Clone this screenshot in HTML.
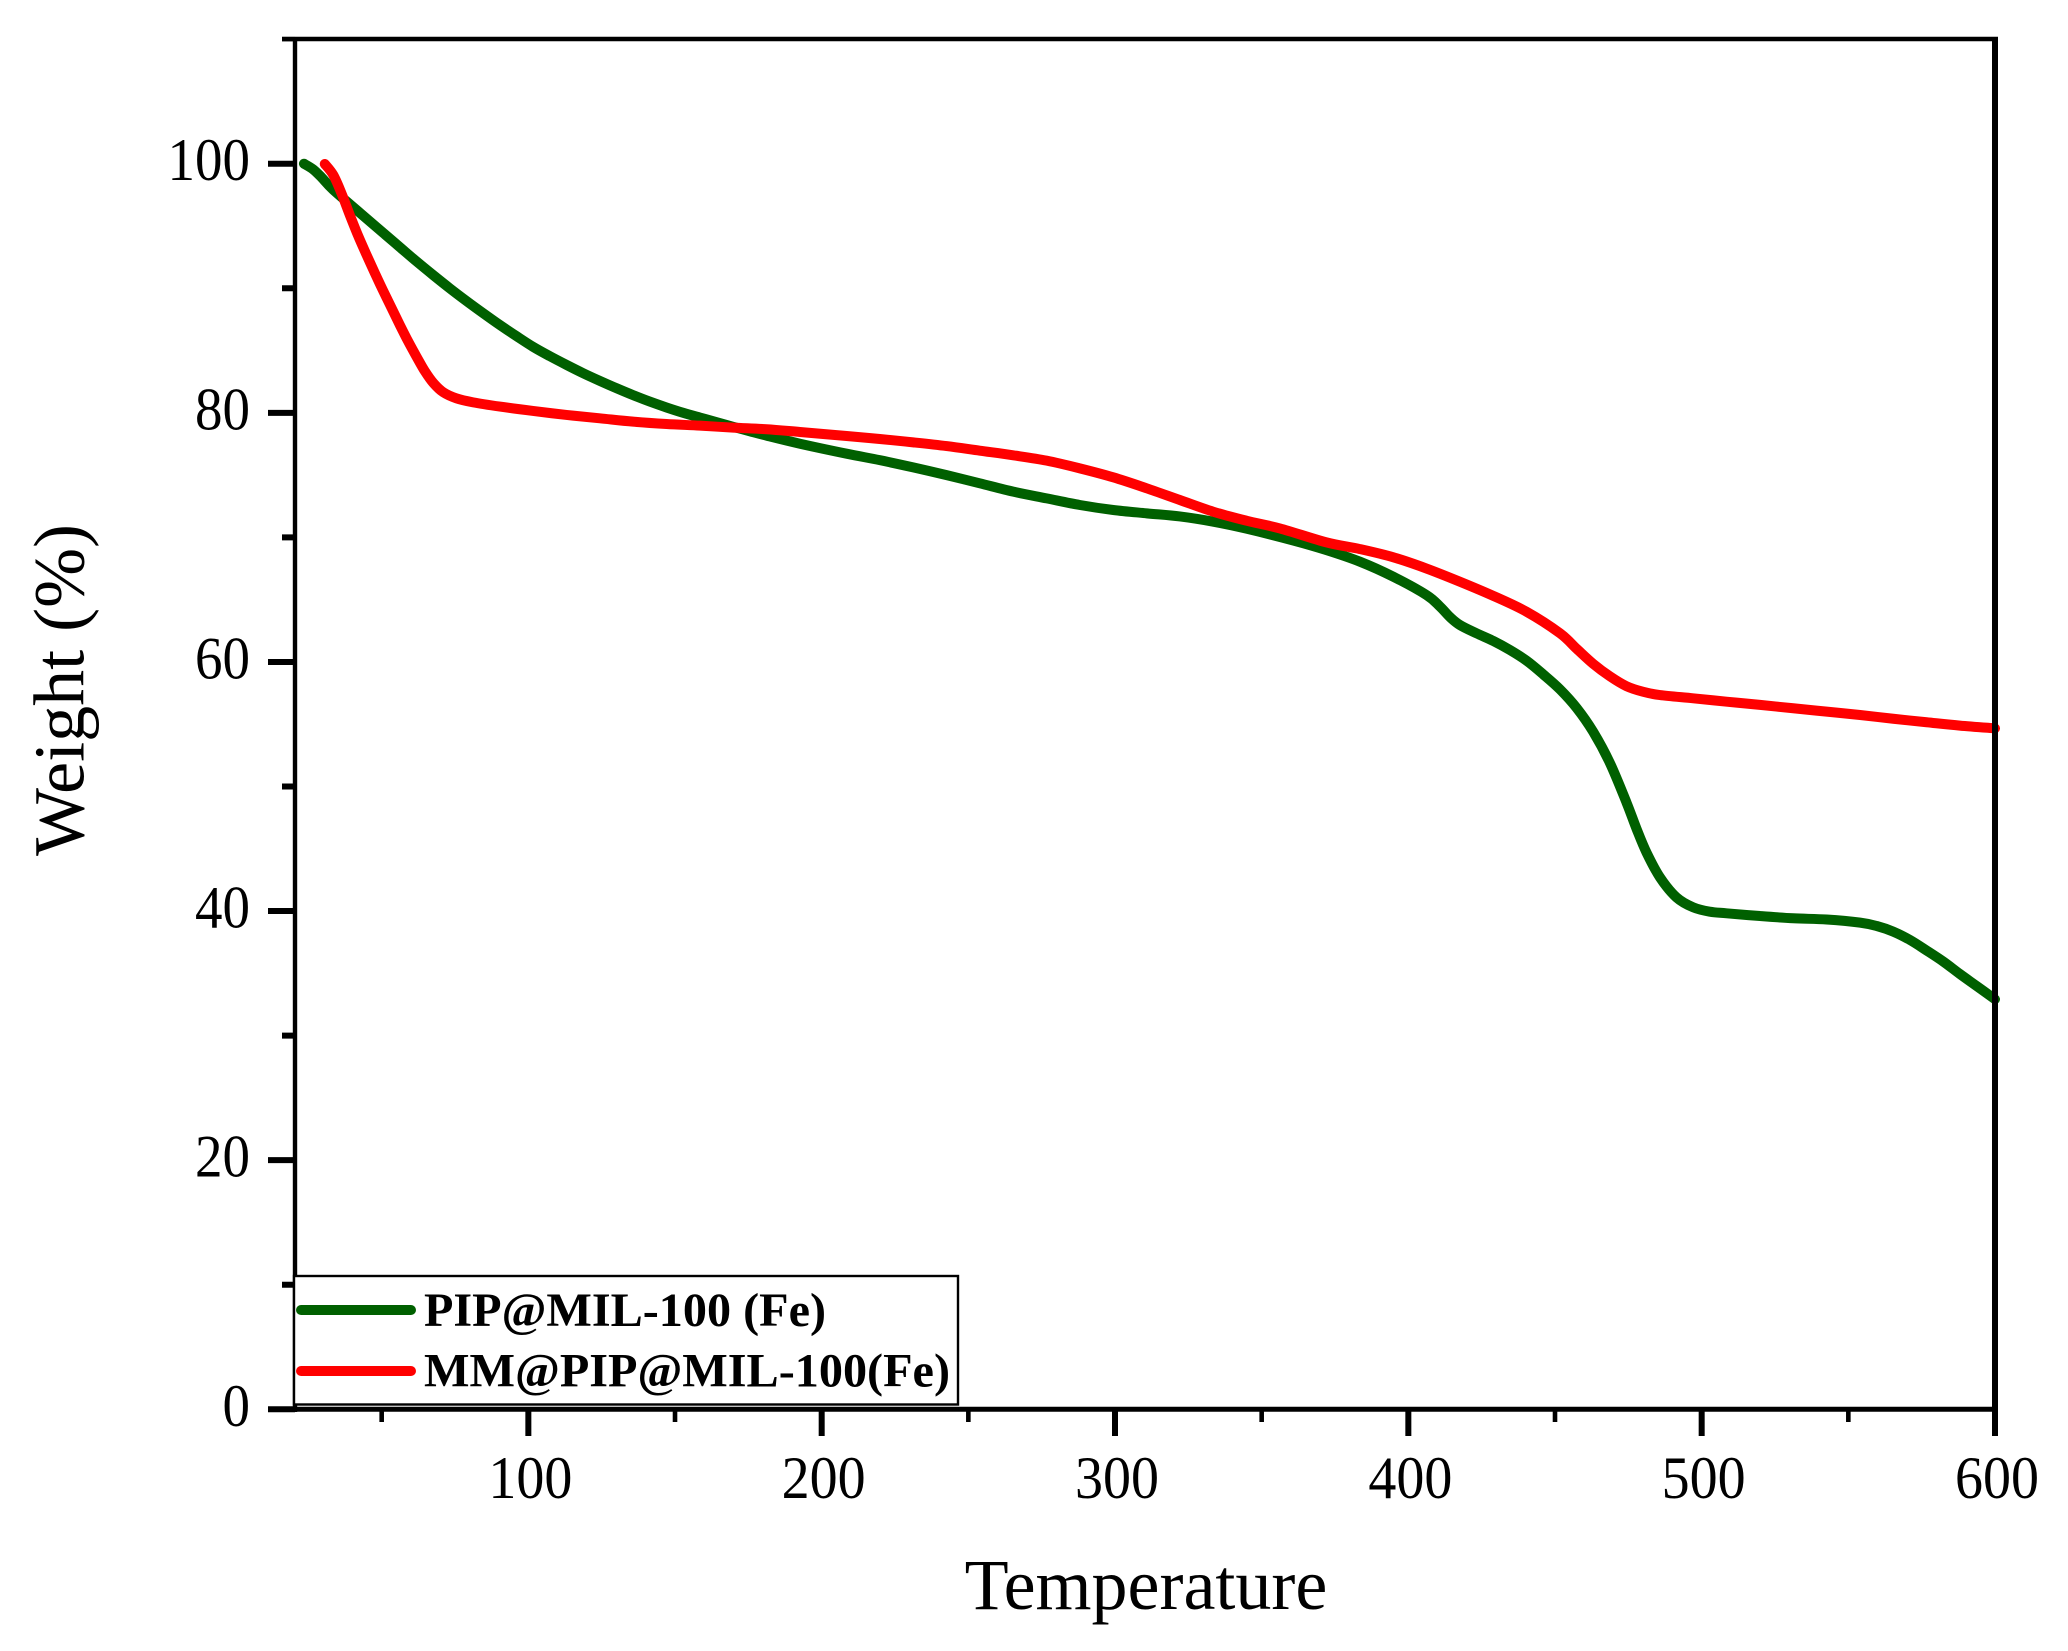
<!DOCTYPE html>
<html lang="en">
<head>
<meta charset="utf-8">
<title>Weight vs Temperature</title>
<style>
html,body{margin:0;padding:0;background:#fff;}
svg{display:block;}
text{font-family:"Liberation Serif","Times New Roman",serif;fill:#000;}
</style>
</head>
<body>
<svg id="chart" xmlns="http://www.w3.org/2000/svg" width="2068" height="1651" viewBox="0 0 2068 1651">
<rect x="0" y="0" width="2068" height="1651" fill="#fff"/>
<g id="series"></g>
<g id="axes"></g>
<text x="1146" y="1609" font-size="72" text-anchor="middle">Temperature</text>
<text transform="translate(83.5,690) rotate(-90)" font-size="72" text-anchor="middle">Weight (%)</text>
<g>
<rect x="294" y="1276" width="664" height="128.5" fill="#fff" stroke="#000" stroke-width="2.4"/>
<line x1="301" y1="1310" x2="411" y2="1310" stroke="#006000" stroke-width="10" stroke-linecap="round"/>
<text x="424" y="1326" font-size="48" font-weight="bold" textLength="402" lengthAdjust="spacingAndGlyphs">PIP@MIL-100 (Fe)</text>
<line x1="301" y1="1371" x2="411" y2="1371" stroke="#ff0000" stroke-width="10" stroke-linecap="round"/>
<text x="424" y="1386.7" font-size="48" font-weight="bold" textLength="526" lengthAdjust="spacingAndGlyphs">MM@PIP@MIL-100(Fe)</text>
</g>
</svg>
<script>
const xMajorTicks = [100, 200, 300, 400, 500, 600];
const xMinorTicks = [50, 150, 250, 350, 450, 550];
const yMajorTicks = [0, 20, 40, 60, 80, 100];
const yMinorTicks = [10, 30, 50, 70, 90, 110];

const pipTemp = [23.5,26.6,29.5,33.5,42.6,50.5,56.2,61.9,67.6,73.2,78.9,84.6,90.3,96,101.6,107.3,113,118.7,124.4,130.1,135.7,141.4,147.1,152.8,158.5,164.2,169.8,175.5,181.2,192.6,208.5,219.8,231.2,242.6,253.9,265.3,276.7,288,299.4,310.8,322.1,333.5,344.8,360.8,372.1,383.5,394.9,406.2,410.8,414.2,417.6,423.3,429,434.6,440.3,446,451.7,457.4,463,468.7,474.4,477.8,481.2,485.8,491.4,497.1,502.8,508.5,519.9,531.2,542.6,554,559.7,565.3,571,576.7,582.4,588,593.7,600];
const pipWeight = [100,99.55,98.9,97.9,96.05,94.45,93.3,92.15,91.05,90,88.98,88,87.05,86.15,85.3,84.55,83.85,83.18,82.56,81.97,81.42,80.9,80.43,80,79.62,79.25,78.88,78.52,78.17,77.52,76.72,76.2,75.62,75,74.34,73.67,73.13,72.6,72.2,71.93,71.68,71.26,70.7,69.75,68.98,68.05,66.84,65.37,64.44,63.6,62.96,62.29,61.68,60.96,60.1,59,57.8,56.3,54.4,51.9,48.7,46.6,44.7,42.7,41.1,40.3,39.95,39.82,39.6,39.42,39.32,39.07,38.8,38.35,37.68,36.83,35.94,34.95,33.99,32.92];

const mmTemp = [30.6,33.5,36.3,39.1,42,44.8,47.7,50.5,53.4,56.2,59,61.9,64.7,67.6,71,75.5,81.2,90.3,101.6,113,124.4,135.7,147.1,158.5,169.8,181.2,192.6,208.5,219.8,231.2,242.6,253.9,265.3,276.7,288,299.4,310.8,322.1,333.5,344.8,356.2,372.1,383.5,394.9,406.2,417.6,429,440.3,451.7,457.4,463,468.7,474.4,480.1,485.8,497.1,508.5,519.9,531.2,542.6,554,565.3,576.7,588,600];
const mmWeight = [99.98,99.09,97.62,95.9,94.2,92.7,91.2,89.8,88.4,87.05,85.75,84.5,83.35,82.4,81.65,81.16,80.84,80.5,80.15,79.83,79.56,79.29,79.1,78.97,78.81,78.68,78.46,78.14,77.9,77.63,77.33,76.96,76.59,76.16,75.54,74.82,73.94,73,72.06,71.34,70.72,69.6,69.06,68.4,67.5,66.44,65.3,64.03,62.3,61.05,59.85,58.85,58.05,57.6,57.34,57.08,56.81,56.55,56.28,56.01,55.74,55.44,55.16,54.89,54.67];

const SVG_NS = 'http://www.w3.org/2000/svg';
function xScale(t) { return 1995 + (t - 600) * 2.9333; }
function yScale(w) { return 1409.3 - w * 12.456; }

function make(tag, attrs, parent) {
  const el = document.createElementNS(SVG_NS, tag);
  for (const k in attrs) el.setAttribute(k, attrs[k]);
  parent.appendChild(el);
  return el;
}

function curvePath(xs, ys) {
  const p = xs.map(function (x, i) { return [xScale(x), yScale(ys[i])]; });
  let d = 'M' + p[0][0].toFixed(2) + ' ' + p[0][1].toFixed(2);
  for (let i = 0; i < p.length - 1; i++) {
    const a = p[Math.max(i - 1, 0)], b = p[i], c = p[i + 1], e = p[Math.min(i + 2, p.length - 1)];
    const c1x = b[0] + (c[0] - a[0]) / 6, c1y = b[1] + (c[1] - a[1]) / 6;
    const c2x = c[0] - (e[0] - b[0]) / 6, c2y = c[1] - (e[1] - b[1]) / 6;
    d += 'C' + c1x.toFixed(2) + ' ' + c1y.toFixed(2) + ' ' + c2x.toFixed(2) + ' ' + c2y.toFixed(2) + ' ' + c[0].toFixed(2) + ' ' + c[1].toFixed(2);
  }
  return d;
}

const seriesGroup = document.getElementById('series');
const axesGroup = document.getElementById('axes');

const pipLine = make('path', {d: curvePath(pipTemp, pipWeight), fill: 'none', stroke: '#006000', 'stroke-width': 10, 'stroke-linecap': 'round', 'stroke-linejoin': 'round'}, seriesGroup);



const mmLine = make('path', {d: curvePath(mmTemp, mmWeight), fill: 'none', stroke: '#ff0000', 'stroke-width': 10, 'stroke-linecap': 'round', 'stroke-linejoin': 'round'}, seriesGroup);



const frameTop = make('line', {x1: 282, y1: 39, x2: 1998, y2: 39, stroke: '#000', 'stroke-width': 4.4}, axesGroup);



const frameRight = make('line', {x1: 1995, y1: 37, x2: 1995, y2: 1436, stroke: '#000', 'stroke-width': 6}, axesGroup);



const axisLeft = make('line', {x1: 295, y1: 37, x2: 295, y2: 1412, stroke: '#000', 'stroke-width': 4.4}, axesGroup);



const axisBottom = make('line', {x1: 268, y1: 1409.3, x2: 1995, y2: 1409.3, stroke: '#000', 'stroke-width': 5}, axesGroup);



yMajorTicks.forEach(function (v) {
  const y = yScale(v);
  const tick = make('line', {x1: 268, y1: y, x2: 295, y2: y, stroke: '#000', 'stroke-width': 6}, axesGroup);
  
  
  const text = String(v);
  const label = make('text', {x: 250, y: y + 16.5, 'font-size': 60, 'text-anchor': 'end', textLength: text.length * 27.5, lengthAdjust: 'spacingAndGlyphs'}, axesGroup);
  label.textContent = text;
  
  
});

yMinorTicks.forEach(function (v) {
  const y = yScale(v);
  const tick = make('line', {x1: 282, y1: y, x2: 295, y2: y, stroke: '#000', 'stroke-width': v === 110 ? 4.4 : 6}, axesGroup);
  
  
});

xMajorTicks.forEach(function (v) {
  const x = xScale(v);
  const tick = make('line', {x1: x, y1: 1409, x2: x, y2: 1436, stroke: '#000', 'stroke-width': 6}, axesGroup);
  
  
  const text = String(v);
  const label = make('text', {x: x + 2, y: 1498, 'font-size': 60, 'text-anchor': 'middle', textLength: text.length * 28, lengthAdjust: 'spacingAndGlyphs'}, axesGroup);
  label.textContent = text;
  
  
});

xMinorTicks.forEach(function (v) {
  const x = xScale(v);
  const tick = make('line', {x1: x, y1: 1409, x2: x, y2: 1422, stroke: '#000', 'stroke-width': 4.6}, axesGroup);
  
  
});
</script>
</body>
</html>
